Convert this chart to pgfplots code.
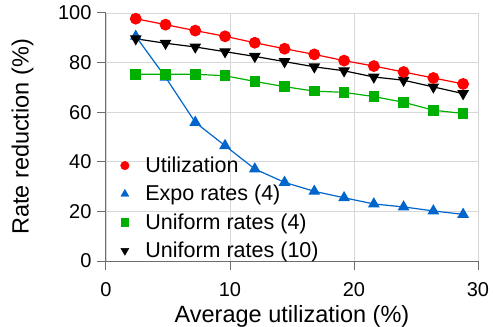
\documentclass[border=0pt]{standalone}
\usepackage{fontspec}
\setmainfont{Liberation Sans}
\usepackage{pgfplots}
\pgfplotsset{compat=1.18}
\definecolor{cred}{RGB}{255,0,0}
\definecolor{cblue}{RGB}{0,102,204}
\definecolor{cgreen}{RGB}{0,176,0}
\definecolor{axgray}{RGB}{110,110,110}
\definecolor{gridgray}{RGB}{215,215,215}
\begin{document}
\begin{tikzpicture}
\begin{axis}[
  scale only axis,
  width=372bp, height=248bp,
  at={(0,0)}, anchor=south west,
  xmin=0, xmax=30, ymin=0, ymax=100,
  xtick={0,10,20,30}, ytick={0,20,40,60,80,100},
  axis x line*=bottom, axis y line*=left,
  axis line style={axgray, line width=1bp},
  tick style={axgray, line width=1bp},
  tick align=outside, major tick length=9bp,
  grid=major, grid style={gridgray, line width=0.9bp},
  tick label style={font=\fontsize{20bp}{24bp}\selectfont},
  xticklabel style={yshift=-9bp},
  yticklabel style={xshift=-2bp},
  /pgf/number format/assume math mode=true,
  xlabel={Average utilization (\%)},
  ylabel={Rate reduction (\%)},
  label style={font=\fontsize{23.5bp}{28bp}\selectfont},
  xlabel style={at={(axis description cs:0.5,0)}, anchor=north, yshift=-41bp},
  ylabel style={at={(axis description cs:0,0.5)}, anchor=south, yshift=69bp},
  legend style={draw=none, fill=none, at={(axis cs:0.58,43.6)}, anchor=north west,
    font=\fontsize{21.5bp}{25bp}\selectfont, row sep=7.3bp},
  legend cell align=left,
  legend image code/.code={
    \draw[#1, mark repeat=2, mark phase=2] plot[only marks] coordinates {(0bp,0bp) (8.5bp,0bp) (17bp,0bp)};
    \draw[draw=none, fill=none] (0bp,0bp) -- (27bp,0bp);},
]
\addlegendimage{only marks, mark=*, mark size=4.3bp, cred}
\addlegendentry{Utilization}
\addlegendimage{only marks, mark=triangle*, mark size=4.6bp, cblue}
\addlegendentry{Expo rates (4)}
\addlegendimage{only marks, mark=square*, mark size=3.7bp, cgreen}
\addlegendentry{Uniform rates (4)}
\addlegendimage{only marks, mark=triangle*, mark options={rotate=180}, mark size=4.6bp, black}
\addlegendentry{Uniform rates (10)}

\addplot[forget plot, cblue, line width=1.2bp, mark=triangle*, mark size=5.6bp] coordinates {
(2.4,90.6)(4.8,74.1)(7.2,55.9)(9.6,46.5)(12,37.1)(14.4,31.7)(16.8,28.1)(19.2,25.5)(21.6,23.0)(24,21.8)(26.4,20.2)(28.8,18.8)};
\addplot[forget plot, cgreen, line width=1.2bp, mark=square*, mark size=4.7bp] coordinates {
(2.4,75.3)(4.8,75.3)(7.2,75.3)(9.6,74.7)(12,72.4)(14.4,70.3)(16.8,68.5)(19.2,68.0)(21.6,66.3)(24,64.0)(26.4,60.8)(28.8,59.5)};
\addplot[forget plot, black, line width=1.2bp, mark=triangle*, mark options={rotate=180}, mark size=5.6bp] coordinates {
(2.4,89.6)(4.8,87.8)(7.2,86.3)(9.6,84.4)(12,82.5)(14.4,80.4)(16.8,78.3)(19.2,76.7)(21.6,74.2)(24,72.9)(26.4,70.2)(28.8,67.5)};
\addplot[forget plot, cred, line width=1.2bp, mark=*, mark size=5.3bp] coordinates {
(2.4,97.7)(4.8,95.3)(7.2,92.9)(9.6,90.6)(12,88.0)(14.4,85.6)(16.8,83.3)(19.2,80.8)(21.6,78.6)(24,76.2)(26.4,73.8)(28.8,71.4)};
\end{axis}
\pgfresetboundingbox
\path[use as bounding box] (-106bp,-66bp) rectangle (387bp,261bp);
\end{tikzpicture}
\end{document}
